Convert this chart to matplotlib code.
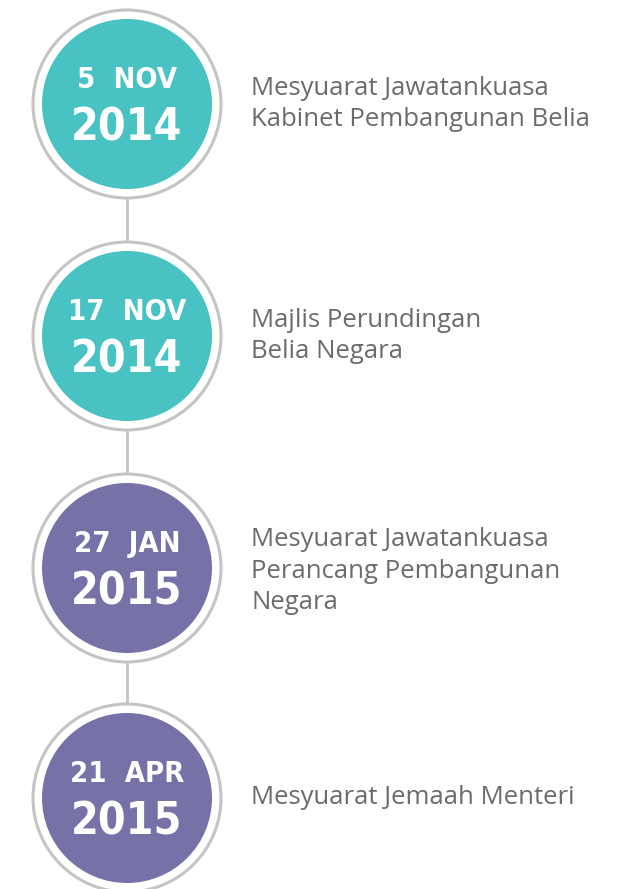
import matplotlib.pyplot as plt
from matplotlib.patches import Circle

# Dados da linha do tempo
dias = ['5', '17', '27', '21']
meses = ['NOV', 'NOV', 'JAN', 'APR']
anos = ['2014', '2014', '2015', '2015']
eventos = [
    'Mesyuarat Jawatankuasa\nKabinet Pembangunan Belia',
    'Majlis Perundingan\nBelia Negara',
    'Mesyuarat Jawatankuasa\nPerancang Pembangunan\nNegara',
    'Mesyuarat Jemaah Menteri',
]
cores = ['#48c2c2', '#48c2c2', '#7672a8', '#7672a8']

fig = plt.figure(figsize=(6.2, 8.89), dpi=100)
ax = fig.add_axes([0, 0, 1, 1])
ax.set_xlim(0, 620)
ax.set_ylim(889, 0)
ax.axis('off')

cx = 127
centros = [104, 336, 568, 798]
r_anel = 94
r_disco = 85

# Linha de ligação entre os círculos
ax.plot([cx, cx], [centros[0], centros[-1]], color='#c4c4c4', lw=2, zorder=1)

fonte_data = ['DejaVu Sans']
fonte_texto = ['Open Sans', 'DejaVu Sans']

for i in range(len(dias)):
    cy = centros[i]
    ax.add_patch(Circle((cx, cy), r_anel, facecolor='white', edgecolor='#c4c4c4', lw=2.2, zorder=2))
    ax.add_patch(Circle((cx, cy), r_disco, facecolor=cores[i], edgecolor='none', zorder=3))

    # Dia e mês
    ax.text(cx, cy - 24, f'{dias[i]}  {meses[i]}', ha='center', va='center', color='white',
            fontsize=21, fontweight='bold', fontstretch='condensed', family=fonte_data, zorder=4)
    # Ano
    ax.text(cx, cy + 24, anos[i], ha='center', va='center', color='white',
            fontsize=32, fontweight='bold', fontstretch='condensed', family=fonte_data, zorder=4)

    # Descrição
    ax.text(251, cy + (3 if i == 2 else 0), eventos[i], ha='left', va='center', color='#6b6b6b',
            fontsize=18.5, family=fonte_texto, linespacing=1.36, zorder=4)

fig.savefig('out.png', dpi=100)
